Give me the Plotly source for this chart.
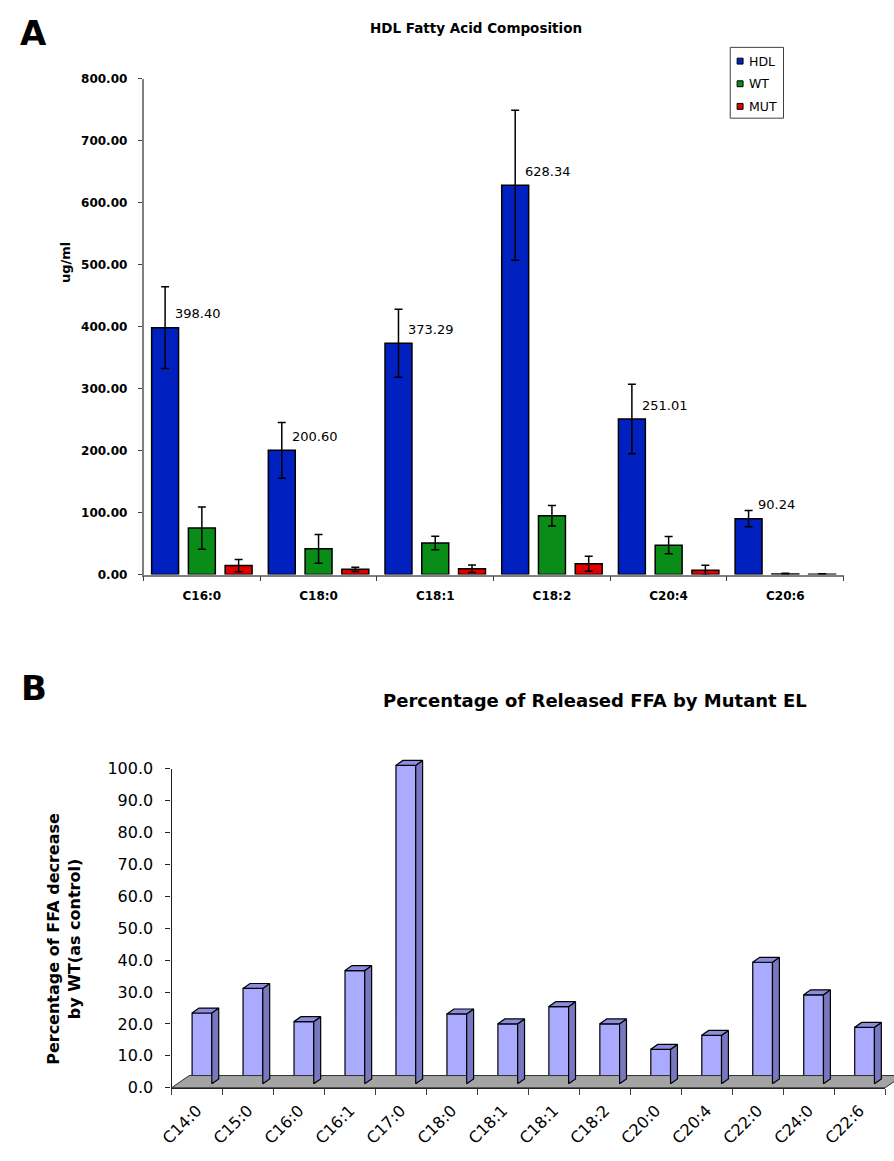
import numpy as np
import plotly.graph_objects as go

W, H = 894, 1161

# ---------------- Panel A data ----------------
fa_cats = ["C16:0", "C18:0", "C18:1", "C18:2", "C20:4", "C20:6"]
hdl = [398.40, 200.60, 373.29, 628.34, 251.01, 90.24]
hdl_err = [66, 45, 55, 121, 56, 13]
wt = [75.0, 41.5, 51.0, 95.0, 47.5, 0.8]
wt_err = [34, 23, 11, 16.5, 14, 1.2]
mut = [14.5, 8.5, 9.5, 17.5, 7.0, 0.4]
mut_err = [10, 3.5, 6, 12, 8, 0.8]
series_names = ["HDL", "WT", "MUT"]
a_yticks = [0, 100, 200, 300, 400, 500, 600, 700, 800]

# ---------------- Panel B data ----------------
ffa_cats = ["C14:0", "C15:0", "C16:0", "C16:1", "C17:0", "C18:0", "C18:1",
            "C18:1", "C18:2", "C20:0", "C20:4", "C22:0", "C24:0", "C22:6"]
ffa_pct = [22.2, 29.9, 19.5, 35.5, 99.8, 21.9, 18.8,
           24.2, 18.8, 10.8, 15.2, 38.1, 27.9, 17.7]
b_yticks = [0, 10, 20, 30, 40, 50, 60, 70, 80, 90, 100]

# ---------------- styles ----------------
FONT = "DejaVu Sans"
COL = {"HDL": "#0020C0", "WT": "#0A8C18", "MUT": "#E00000"}
FRONT, SIDE, TOP, FLOOR = "#AAAAFF", "#7878C0", "#8C8CDE", "#A4A4A4"
CLEAR = "rgba(0,0,0,0)"


def xp(px):
    return px / W


def yp(py):
    return 1 - py / H


# Panel A geometry (pixels)
A_X0, A_X1 = 133.3, 843
A_Y0, A_Y1 = 575, 71

# Panel B geometry (pixels)
B_X0, B_X1 = 161.7, 885
B_Y0, B_Y1 = 1096.7, 772.3
n = len(ffa_cats)
cat_px = (B_X1 - B_X0) / n
unit_px = (B_Y0 - B_Y1) / 100.0
PLANE_DX, PLANE_DY = 5, 4
DEPTH_DX, DEPTH_DY = 7, 5
FLOOR_DX, FLOOR_DY = 18, 12.4
bar_w = 20 / cat_px

X4_L, X4_R = 150, 894
c0 = B_X0 + cat_px / 2 + PLANE_DX
x4_range = [(X4_L - c0) / cat_px, (X4_R - c0) / cat_px]
Y4_B, Y4_T = 1112, 700
base_py = B_Y0 - PLANE_DY
y4_range = [(base_py - Y4_B) / unit_px, (base_py - Y4_T) / unit_px]

fig = go.Figure()

# ---------- Panel A bars ----------
for name, vals, errs in [("HDL", hdl, hdl_err), ("WT", wt, wt_err), ("MUT", mut, mut_err)]:
    fig.add_trace(go.Bar(
        x=fa_cats, y=vals, name=name, xaxis="x", yaxis="y",
        marker=dict(color=COL[name], line=dict(color="black", width=1.5)),
        error_y=dict(type="data", array=errs, color="black", thickness=1.5, width=4),
        showlegend=False, hoverinfo="x+y",
    ))

# ---------- Panel B ----------
xi = np.arange(n, dtype=float)
ddx = DEPTH_DX / cat_px
ddy = DEPTH_DY / unit_px

# floor
fy0 = -PLANE_DY / unit_px
fxl = (B_X0 - c0) / cat_px
fxr = (B_X1 - c0) / cat_px
fdx = FLOOR_DX / cat_px
fdy = FLOOR_DY / unit_px
fig.add_trace(go.Scatter(
    x=[fxl, fxr, fxr + fdx, fxl + fdx, fxl],
    y=[fy0, fy0, fy0 + fdy, fy0 + fdy, fy0],
    mode="lines", fill="toself", fillcolor=FLOOR,
    line=dict(color="#303030", width=1), xaxis="x4", yaxis="y4",
    showlegend=False, hoverinfo="skip",
))

# front faces
fig.add_trace(go.Bar(
    x=xi, y=ffa_pct, width=bar_w, xaxis="x4", yaxis="y4",
    marker=dict(color=FRONT, line=dict(color="black", width=1.2)),
    showlegend=False, hovertext=ffa_cats, hoverinfo="text+y",
))

# side faces
sx, sy = [], []
for i, v in zip(xi, ffa_pct):
    r = i + bar_w / 2
    sx += [r, r + ddx, r + ddx, r, r, None]
    sy += [0, ddy, v + ddy, v, 0, None]
fig.add_trace(go.Scatter(
    x=sx, y=sy, mode="lines", fill="toself", fillcolor=SIDE,
    line=dict(color="black", width=1.2), xaxis="x4", yaxis="y4",
    showlegend=False, hoverinfo="skip",
))
# top faces
tx, ty = [], []
for i, v in zip(xi, ffa_pct):
    l, r = i - bar_w / 2, i + bar_w / 2
    tx += [l, r, r + ddx, l + ddx, l, None]
    ty += [v, v, v + ddy, v + ddy, v, None]
fig.add_trace(go.Scatter(
    x=tx, y=ty, mode="lines", fill="toself", fillcolor=TOP,
    line=dict(color="black", width=1.2), xaxis="x4", yaxis="y4",
    showlegend=False, hoverinfo="skip",
))

# dummy trace so the front axes exist
fig.add_trace(go.Scatter(
    x=xi, y=[None] * n, xaxis="x3", yaxis="y3", mode="markers",
    showlegend=False, hoverinfo="skip",
))


# ---------- annotations ----------
def txt(text, px, py, size, bold=False, angle=0, xa="center", ya="middle"):
    return dict(text=text, x=xp(px), y=yp(py), xref="paper", yref="paper",
                xanchor=xa, yanchor=ya, textangle=angle, showarrow=False,
                font=dict(family=FONT, size=size, color="black",
                          weight="bold" if bold else "normal"))


ann = [
    txt("A", 22, 24, 34, True),
    txt("B", 22, 690, 34, True),
    txt("HDL Fatty Acid Composition", 470, 19, 13.5, True),
    txt("Percentage of Released FFA by Mutant EL", 591, 703, 18, True),
    txt("ug/ml", 55, 258, 13, True, -90),
    txt("Percentage of FFA decrease<br>by WT(as control)", 52, 945, 16, True, -90),
]
for c, v in zip(fa_cats, hdl):
    ann.append(dict(text=f"{v:.2f}", x=c, y=v, xref="x", yref="y", xanchor="left",
                    yanchor="middle", xshift=-29, yshift=14, showarrow=False,
                    font=dict(family=FONT, size=13, color="black")))

# legend box
shapes = [dict(type="rect", xref="paper", yref="paper", x0=xp(728), x1=xp(782),
               y0=yp(111), y1=yp(39), line=dict(color="#404040", width=1),
               fillcolor="white")]
for k, name in enumerate(series_names):
    cy = 53 + 23 * k
    shapes.append(dict(type="rect", xref="paper", yref="paper", x0=xp(735), x1=xp(741),
                       y0=yp(cy + 3), y1=yp(cy - 3), line=dict(color="black", width=1),
                       fillcolor=COL[name]))
    ann.append(txt(name, 744.5, cy, 12.5, False, 0, "left", "middle"))

fig.update_layout(
    width=W, height=H, autosize=False,
    margin=dict(l=0, r=0, t=0, b=0),
    paper_bgcolor="white", plot_bgcolor=CLEAR,
    barmode="group", bargap=0.055, bargroupgap=0.267,
    showlegend=False,
    annotations=ann, shapes=shapes,
    xaxis=dict(domain=[xp(A_X0), xp(A_X1)], anchor="y", type="category",
               range=[-0.5, len(fa_cats) - 0.5], showline=True, linecolor="#808080",
               linewidth=1.5, ticks="outside", tickson="boundaries", ticklen=5,
               tickcolor="#404040", showgrid=False, zeroline=False,
               tickfont=dict(family=FONT, size=12, color="black", weight="bold"),
               ticklabelstandoff=9),
    yaxis=dict(domain=[yp(A_Y0), yp(A_Y1)], anchor="x", range=[0, 800],
               tickvals=a_yticks, tickformat=".2f", showline=True, linecolor="#808080",
               linewidth=1.5, ticks="outside", ticklen=4, tickcolor="#404040",
               showgrid=False, zeroline=False, ticklabelstandoff=8,
               tickfont=dict(family=FONT, size=12, color="black", weight="bold")),
    xaxis3=dict(domain=[xp(B_X0), xp(B_X1)], anchor="y3", range=[-0.5, n - 0.5],
                tickvals=list(xi), ticktext=ffa_cats, ticks="", showline=True,
                linecolor="#202020", linewidth=1.2, showgrid=False, zeroline=False,
                tickangle=-45, tickfont=dict(family=FONT, size=16, color="black"),
                minor=dict(tickmode="linear", tick0=-0.5, dtick=1, ticks="outside",
                           ticklen=6, tickcolor="#404040", showgrid=False),
                ticklabelstandoff=6),
    yaxis3=dict(domain=[yp(B_Y0), yp(B_Y1)], anchor="x3", range=[0, 100],
                tickvals=b_yticks, tickformat=".1f", showline=True, linecolor="#202020",
                linewidth=1.2, ticks="outside", ticklen=5, tickcolor="#202020",
                showgrid=False, zeroline=False, ticklabelstandoff=9,
                tickfont=dict(family=FONT, size=16, color="black")),
    xaxis4=dict(domain=[xp(X4_L), xp(X4_R)], anchor="y4", range=x4_range, visible=False,
                showgrid=False, zeroline=False),
    yaxis4=dict(domain=[yp(Y4_B), yp(Y4_T)], anchor="x4", range=y4_range, visible=False,
                showgrid=False, zeroline=False),
)

fig.write_html("out.html", config={"displayModeBar": False},
               post_script="document.body.style.margin='0';document.body.style.overflow='hidden';")
